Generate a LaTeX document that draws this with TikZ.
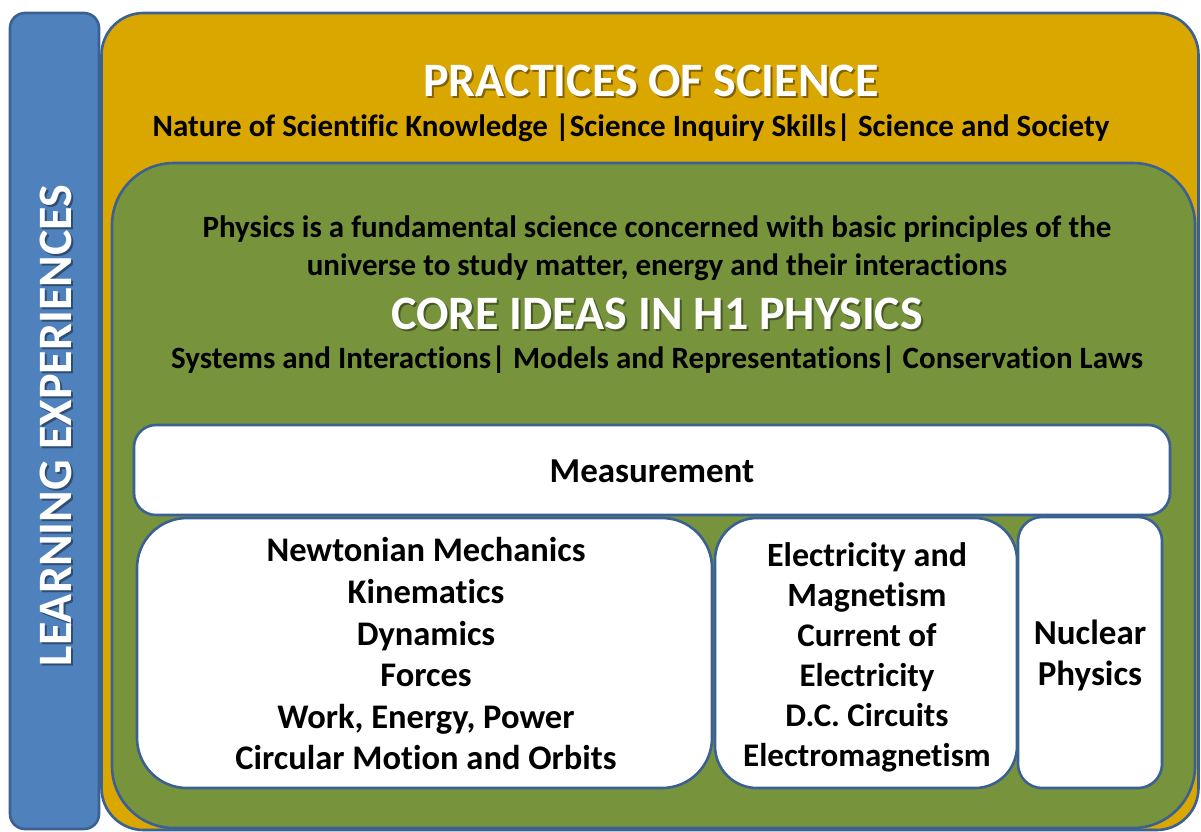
\documentclass[tikz,border=0pt]{standalone}
\usepackage{fontspec}
\setmainfont{Carlito}[Ligatures=NoCommon]
\definecolor{edge}{HTML}{3B6193}
\definecolor{bluef}{HTML}{4F81BD}
\definecolor{orangef}{HTML}{DAA600}
\definecolor{greenf}{HTML}{77933C}
\newcommand{\smallline}[1]{{\fontsize{33}{40}\selectfont #1}}
\tikzset{
  panel/.style={draw=edge, line width=2.6pt, inner sep=0pt, rectangle},
  wbox/.style={panel, fill=white},
  fs/.style 2 args={font=\bfseries\fontsize{#1}{#2}\selectfont},
  title/.style={text=white, align=center},
  shadowtxt/.style={text=black, opacity=0.4, align=center},
  body/.style={text=black, align=center},
}
\begin{document}
\begin{tikzpicture}[x=1pt,y=-1pt]
\useasboundingbox (0,0) rectangle (1201,831);
% panels
\node[panel, fill=bluef, rounded corners=15pt, minimum width=89pt, minimum height=816pt] (learn) at (54.5,421) {};
\node[panel, fill=orangef, rounded corners=42pt, minimum width=1097pt, minimum height=817pt] (practice) at (650,421.5) {};
\node[panel, fill=greenf, rounded corners=62pt, minimum width=1083pt, minimum height=665pt] (core) at (653.5,495.5) {};
\node[wbox, rounded corners=22pt, minimum width=1036pt, minimum height=90pt] (meas) at (652,470) {};
\node[wbox, rounded corners=50pt, minimum width=575pt, minimum height=270pt] (newton) at (424.5,653) {};
\node[wbox, rounded corners=42pt, minimum width=302pt, minimum height=270pt] (elec) at (866,653) {};
\node[wbox, rounded corners=24pt, minimum width=144pt, minimum height=271pt] (nuc) at (1090,652.5) {};
% vertical label
\node[shadowtxt, fs={48}{56}, rotate=90] at (57.5,427.5) {LEARNING EXPERIENCES};
\node[title, fs={48}{56}, rotate=90] (learntxt) at (55.5,425.5) {LEARNING EXPERIENCES};
% practices
\node[shadowtxt, fs={48}{56}] at (653,83) {PRACTICES OF SCIENCE};
\node[title, fs={48}{56}] (prtitle) at (651,81) {PRACTICES OF SCIENCE};
\node[body, fs={31}{36}] (prsub) at (631,128) {Nature of Scientific Knowledge |Science Inquiry Skills|\ Science and Society};
% core
\node[body, fs={31}{38}] (phys) at (657,248) {Physics is a fundamental science concerned with basic principles of the\\universe to study matter, energy and their interactions};
\node[shadowtxt, fs={48}{56}] at (659,316) {CORE IDEAS IN H1 PHYSICS};
\node[title, fs={48}{56}] (coretitle) at (657,314) {CORE IDEAS IN H1 PHYSICS};
\node[body, fs={31}{36}] (coresub) at (657,360) {Systems and Interactions|\ Models and Representations|\ Conservation Laws};
% topics
\node[body, fs={35}{40}] (meastxt) at (652,471) {Measurement};
\node[body, fs={34.5}{41.6}] (newtxt) at (426,654) {Newtonian Mechanics\\Kinematics\\Dynamics\\Forces\\Work, Energy, Power\\Circular Motion and Orbits};
\node[body, fs={34}{40}] (electxt) at (867,657) {Electricity and\\Magnetism\\\smallline{Current of}\\\smallline{Electricity}\\\smallline{D.C. Circuits}\\\smallline{Electromagnetism}};
\node[body, fs={35}{41}] (nuctxt) at (1090,655) {Nuclear\\Physics};
\end{tikzpicture}
\end{document}
